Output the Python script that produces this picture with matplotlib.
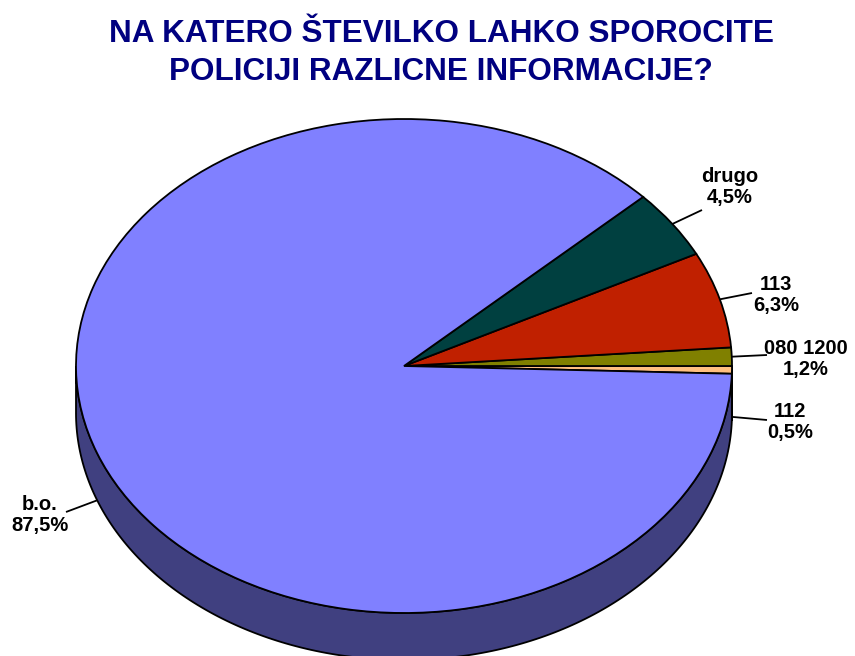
import numpy as np
import matplotlib
matplotlib.use("Agg")
import matplotlib.pyplot as plt
from matplotlib.patches import Polygon
from matplotlib.colors import to_rgb

# ---- data ----
categories = ['112', '080 1200', '113', 'drugo', 'b.o.']
values = [0.5, 1.2, 6.3, 4.5, 87.5]
pct_labels = ['0,5%', '1,2%', '6,3%', '4,5%', '87,5%']
colors = ['#FFC080', '#808000', '#C02000', '#004040', '#8080FF']
title_lines = ['NA KATERO ŠTEVILKO LAHKO SPOROCITE', 'POLICIJI RAZLICNE INFORMACIJE?']

# ---- layout (pixels) ----
W, H = 855, 656
CX, CY = 404, 366          # pie centre (px from top)
RX, RY = 328, 247          # ellipse radii in px
DEPTH = 47                 # 3D depth in px
# label text centre and leader-line end, in px from top-left
label_pos = {
    '112': ((790, 422), (767, 420)),
    '080 1200': ((806, 359), (767, 355)),
    '113': ((776, 295), (752, 293)),
    'drugo': ((730, 187), (702, 210)),
    'b.o.': ((40, 515), (66, 512)),
}

plt.rcParams['font.family'] = ['Liberation Sans', 'DejaVu Sans']

fig = plt.figure(figsize=(W / 100, H / 100), dpi=100)
ax = fig.add_axes([0, 0, 1, 1])


def px(x, y):
    return (x - CX) / RX, (CY - y) / RY


total = sum(values)
start = -values[0] / total * 360.0
wedges, _ = ax.pie(values, colors=colors, startangle=start, counterclock=True,
                   radius=1.0, center=(0, 0),
                   wedgeprops=dict(edgecolor='black', linewidth=1.3, zorder=3))
ax.set_aspect('auto')
ax.set_xlim(-CX / RX, (W - CX) / RX)
ax.set_ylim(-(H - CY) / RY, CY / RY)
ax.axis('off')

d = DEPTH / RY


def darker(c, f=0.5):
    r, g, b = to_rgb(c)
    return (r * f, g * f, b * f)


# side walls of the front-facing parts
for w, col in zip(wedges, colors):
    t1, t2 = w.theta1, w.theta2
    for lo, hi in [(-180, 0), (180, 360), (540, 720)]:
        a1, a2 = max(t1, lo), min(t2, hi)
        if a2 - a1 <= 0:
            continue
        a = np.radians(np.linspace(a1, a2, 200))
        top = np.column_stack([np.cos(a), np.sin(a)])
        bot = np.column_stack([np.cos(a[::-1]), np.sin(a[::-1]) - d])
        poly = Polygon(np.vstack([top, bot]), closed=True, facecolor=darker(col),
                       edgecolor='black', linewidth=1.3, zorder=1)
        ax.add_patch(poly)

# labels with leader lines
for w, cat, pct in zip(wedges, categories, pct_labels):
    mid = np.radians((w.theta1 + w.theta2) / 2)
    ax_x, ax_y = np.cos(mid), np.sin(mid)
    if ax_y < 0:
        ax_y -= d
    (tx, ty), (lx, ly) = label_pos[cat]
    lx, ly = px(lx, ly)
    ax.plot([ax_x, lx], [ax_y, ly], color='black', lw=1.3, zorder=5,
            solid_capstyle='butt')
    tx, ty = px(tx, ty)
    ax.text(tx, ty, f'{cat}\n{pct}', ha='center', va='center', fontsize=14.5,
            fontweight='bold', linespacing=1.15, color='black', zorder=6)

# title
fig.text(441 / W, 1 - 42 / H, title_lines[0], ha='center', va='baseline',
         fontsize=22.7, fontweight='bold', color='#000080')
fig.text(441 / W, 1 - 80 / H, title_lines[1], ha='center', va='baseline',
         fontsize=22.7, fontweight='bold', color='#000080')

fig.savefig('out.png', dpi=100)
